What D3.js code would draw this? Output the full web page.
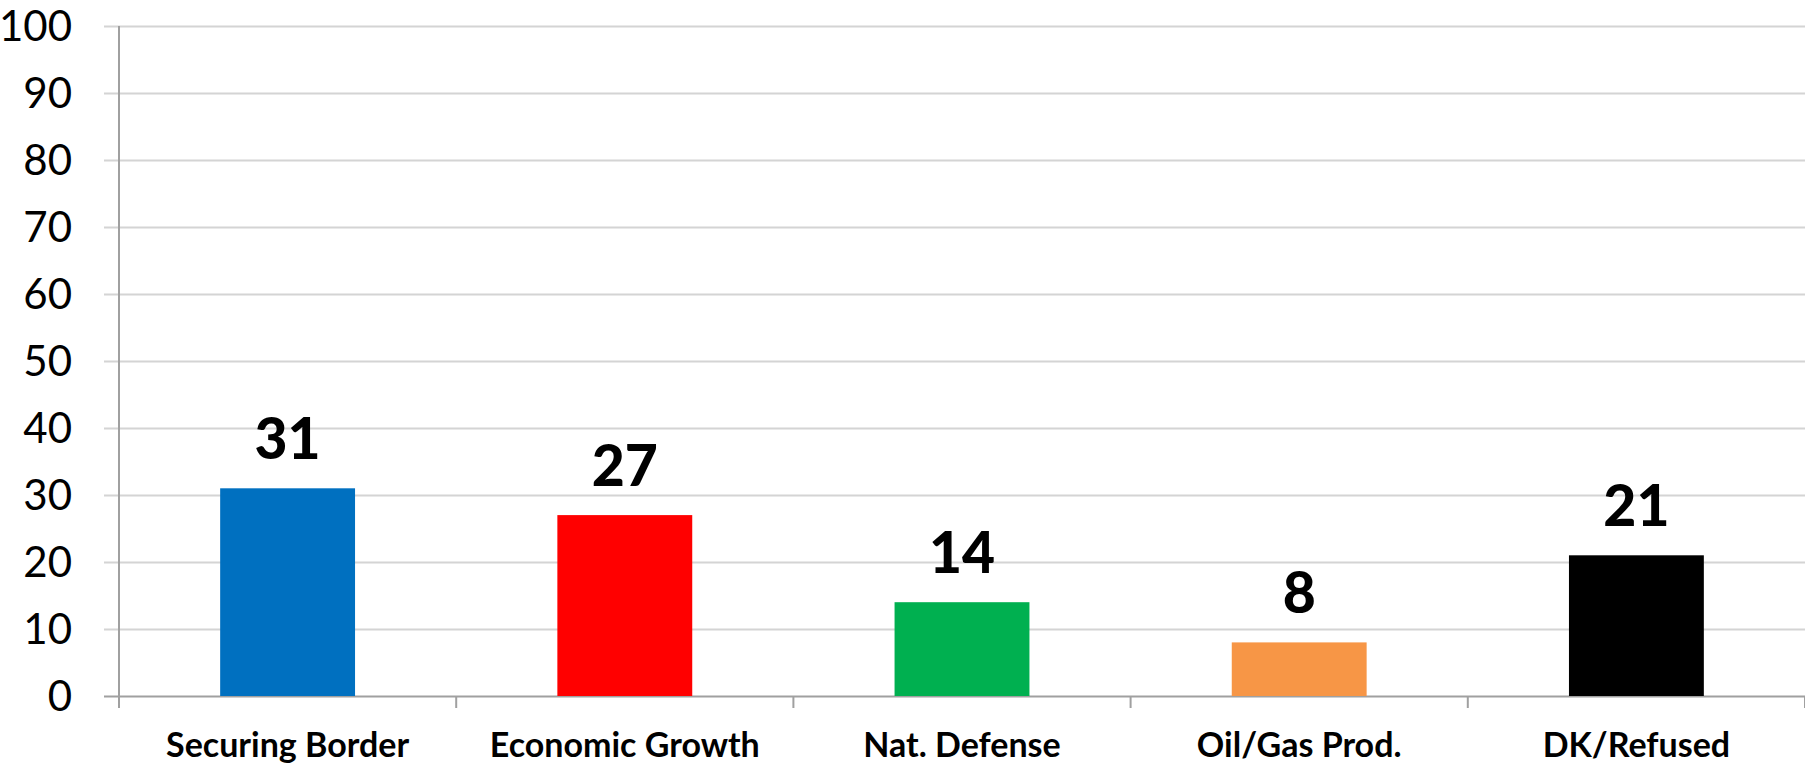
<!DOCTYPE html>
<html>
<head>
<meta charset="utf-8">
<script src="https://cdn.jsdelivr.net/npm/d3@7"></script>
<style>
  body { margin: 0; background: #fff; }
  svg { display: block; font-family: Lato, "Open Sans", sans-serif; }
</style>
</head>
<body>
<svg width="1805" height="772"></svg>
<script>
var categories = ["Securing Border", "Economic Growth", "Nat. Defense", "Oil/Gas Prod.", "DK/Refused"];
var values = [31, 27, 14, 8, 21];
var barColors = ["#0070c0", "#ff0000", "#00b050", "#f79646", "#000000"];
var yTicks = [0, 10, 20, 30, 40, 50, 60, 70, 80, 90, 100];

var svg = d3.select("svg"),
    width = +svg.attr("width"),
    height = +svg.attr("height");

var margin = {left: 119, right: 0, top: 26, bottom: 76};

var x = d3.scaleBand()
    .domain(categories)
    .range([margin.left, width - margin.right])
    .paddingInner(0.6)
    .paddingOuter(0.3);

var xTicks = d3.scaleBand()
    .domain(categories)
    .range([margin.left, width - margin.right]);

var y = d3.scaleLinear()
    .domain([0, 100])
    .range([height - margin.bottom, margin.top]);

// gridlines
svg.append("g")
  .selectAll("line")
  .data(yTicks)
  .enter().append("line")
    .attr("x1", margin.left - 15)
    .attr("x2", width)
    .attr("y1", function(d) { return y(d) + 0.5; })
    .attr("y2", function(d) { return y(d) + 0.5; })
    .attr("stroke", function(d) { return d === 0 ? "#a0a0a0" : "#d4d4d4"; })
    .attr("stroke-width", 2);

// y axis line
svg.append("line")
    .attr("x1", margin.left)
    .attr("x2", margin.left)
    .attr("y1", y(100))
    .attr("y2", y(0) + 12)
    .attr("stroke", "#a0a0a0")
    .attr("stroke-width", 2);

// x tick marks between categories
svg.append("g")
  .selectAll("line")
  .data(categories.slice(1).concat(["end"]))
  .enter().append("line")
    .attr("x1", function(d, i) { return margin.left + xTicks.step() * (i + 1); })
    .attr("x2", function(d, i) { return margin.left + xTicks.step() * (i + 1); })
    .attr("y1", y(0))
    .attr("y2", y(0) + 12)
    .attr("stroke", "#a0a0a0")
    .attr("stroke-width", 2);

// y tick labels
svg.append("g")
  .selectAll("text")
  .data(yTicks)
  .enter().append("text")
    .attr("x", 72)
    .attr("y", function(d) { return y(d) + 15; })
    .attr("text-anchor", "end")
    .attr("font-size", 42)
    .attr("fill", "#000")
    .text(function(d) { return d; });

// bars
svg.append("g")
  .selectAll("rect")
  .data(values)
  .enter().append("rect")
    .attr("x", function(d, i) { return x(categories[i]); })
    .attr("width", x.bandwidth())
    .attr("y", function(d) { return y(d); })
    .attr("height", function(d) { return y(0) - y(d); })
    .attr("fill", function(d, i) { return barColors[i]; });

// value labels
svg.append("g")
  .selectAll("text")
  .data(values)
  .enter().append("text")
    .attr("x", function(d, i) { return x(categories[i]) + x.bandwidth() / 2; })
    .attr("y", function(d) { return y(d) - 29; })
    .attr("text-anchor", "middle")
    .attr("font-size", 57)
    .attr("font-weight", "900")
    .attr("fill", "#000")
    .text(function(d) { return d; });

// category labels
svg.append("g")
  .selectAll("text")
  .data(categories)
  .enter().append("text")
    .attr("x", function(d) { return x(d) + x.bandwidth() / 2; })
    .attr("y", 757)
    .attr("text-anchor", "middle")
    .attr("font-size", 34)
    .attr("font-weight", "bold")
    .attr("fill", "#000")
    .text(function(d) { return d; });
</script>
</body>
</html>
